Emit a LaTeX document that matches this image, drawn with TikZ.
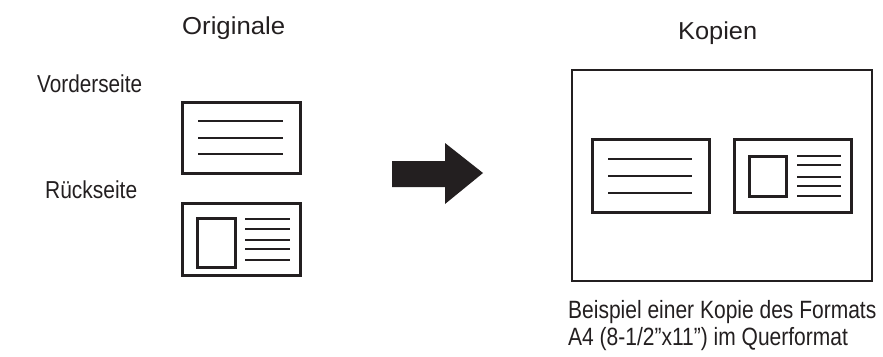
\documentclass[tikz,border=0pt]{standalone}
\usepackage{fontspec}
\setmainfont{Liberation Sans}
\usepackage{graphicx}
\definecolor{ink}{HTML}{231F20}
\begin{document}
\begin{tikzpicture}[x=1pt,y=-1pt,
  card/.style={draw=ink,line width=3pt},
  frame/.style={draw=ink,line width=2.8pt},
  txtline/.style={draw=ink,line width=2.3pt},
  lbl/.style={anchor=base west,inner sep=0pt,text=ink}]
\useasboundingbox (0,0) rectangle (883,356);
% headings
\node[lbl] (orig) at (182,34) {\scalebox{1.05}[1]{\fontsize{24.5}{24.5}\selectfont Originale}};
\node[lbl] (kop) at (678,39) {\scalebox{1.035}[1]{\fontsize{24.5}{24.5}\selectfont Kopien}};
\node[lbl] (vs) at (37,92) {\scalebox{0.846}[1]{\fontsize{24.5}{24.5}\selectfont Vorderseite}};
\node[lbl] (rs) at (45,198) {\scalebox{0.855}[1]{\fontsize{24.5}{24.5}\selectfont Rückseite}};
\node[lbl] (cap1) at (568,318) {\scalebox{0.84}[1]{\fontsize{25}{25}\selectfont Beispiel einer Kopie des Formats}};
\node[lbl] (cap2) at (568,345) {\scalebox{0.84}[1]{\fontsize{25}{25}\selectfont A4 (8-1/2\symbol{"22}x11\symbol{"22}) im Querformat}};
% original front
\draw[card] (182,102) rectangle (300,173);
\foreach \y in {121,138,154} \draw[txtline] (198,\y) -- (283,\y);
% original back
\draw[card] (182,203) rectangle (300,275);
\draw[card] (197,218) rectangle (235,267);
\foreach \y in {219,229,240,249,260} \draw[txtline] (245,\y) -- (290,\y);
% arrow
\fill[ink] (392,161) -- (445,161) -- (445,143) -- (483,173) -- (445,204) -- (445,187) -- (392,187) -- cycle;
% copy
\draw[frame] (572,70) rectangle (872,281);
\draw[card] (592,139) rectangle (709,212);
\foreach \y in {159,176,193} \draw[txtline] (608,\y) -- (692,\y);
\draw[card] (734,139) rectangle (851,212);
\draw[card] (749,156) rectangle (786,196);
\foreach \y in {156,165,177,186,196} \draw[txtline] (797,\y) -- (841,\y);
\end{tikzpicture}
\end{document}
